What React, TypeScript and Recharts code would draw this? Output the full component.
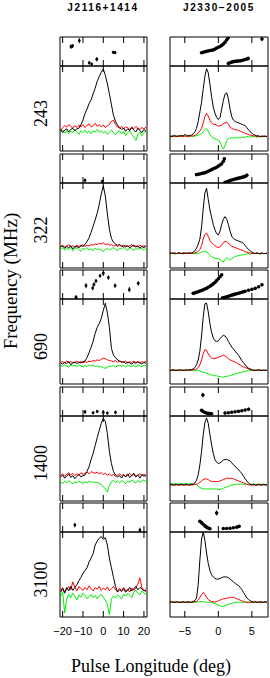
import { ComposedChart, Line, Scatter, XAxis, YAxis, ErrorBar } from "recharts";

const freqs = ["243", "322", "690", "1400", "3100"];

const lonL = [-21, -20, -19, -18, -17, -16, -15, -14, -13, -12, -11, -10, -9, -8, -7, -6, -5, -4, -3, -2, -1, 0, 1, 2, 3, 4, 5, 6, 7, 8, 9, 10, 11, 12, 13, 14, 15, 16, 17, 18, 19, 20, 21];
const lonR = [-7.25, -7, -6.75, -6.5, -6.25, -6, -5.75, -5.5, -5.25, -5, -4.75, -4.5, -4.25, -4, -3.75, -3.5, -3.25, -3, -2.75, -2.5, -2.25, -2, -1.75, -1.5, -1.25, -1, -0.75, -0.5, -0.25, 0, 0.25, 0.5, 0.75, 1, 1.25, 1.5, 1.75, 2, 2.25, 2.5, 2.75, 3, 3.25, 3.5, 3.75, 4, 4.25, 4.5, 4.75, 5, 5.25, 5.5, 5.75, 6, 6.25, 6.5, 6.75, 7, 7.25];

// J2116+1414 : total (I), linear (L), circular (V)
const iL243 = [0.02,-0.03,0.01,0.03,-0.02,0.02,0.04,0.0,0.03,0.04,0.1,0.17,0.28,0.35,0.44,0.5,0.6,0.69,0.8,0.88,0.95,1.0,0.9,0.76,0.6,0.42,0.25,0.15,0.09,0.05,0.02,0.04,-0.01,0.03,0.0,0.05,0.01,-0.02,0.04,0.0,-0.03,0.02,-0.01];
const lL243 = [0.0,0.05,0.08,0.06,0.1,0.07,0.04,0.08,0.05,0.09,0.06,0.1,0.05,0.09,0.11,0.06,0.08,0.12,0.07,0.1,0.06,0.09,0.05,0.08,0.1,0.15,0.17,0.1,0.06,0.04,0.07,0.03,0.06,0.05,0.02,0.06,0.03,0.07,0.04,0.02,0.05,0.03,0.06];
const vL243 = [-0.02,0.01,-0.04,0.0,-0.05,-0.01,-0.03,0.02,-0.02,-0.06,0.0,-0.03,0.01,-0.04,-0.01,-0.05,0.0,-0.02,0.02,-0.03,0.0,-0.04,-0.01,-0.06,-0.02,0.01,-0.03,-0.07,-0.02,0.0,-0.05,-0.01,-0.08,-0.03,0.0,-0.06,-0.1,-0.16,-0.06,-0.02,-0.08,-0.03,-0.01];
const iL322 = [0.01,0.03,-0.01,0.02,0.0,0.03,-0.02,0.01,0.02,0.0,0.03,0.02,0.05,0.1,0.16,0.25,0.35,0.45,0.56,0.7,0.87,1.0,0.84,0.55,0.3,0.15,0.09,0.06,0.04,0.05,0.02,0.04,0.01,0.03,0.0,0.02,0.04,0.01,0.03,-0.01,0.02,0.0,0.03];
const lL322 = [0.02,0.04,0.01,0.03,0.05,0.02,0.03,0.01,0.04,0.02,0.03,0.05,0.02,0.04,0.03,0.05,0.04,0.06,0.05,0.07,0.06,0.08,0.05,0.06,0.04,0.05,0.03,0.04,0.02,0.04,0.03,0.01,0.04,0.02,0.03,0.05,0.02,0.03,0.01,0.04,0.02,0.03,0.02];
const vL322 = [-0.02,0.0,-0.04,-0.01,-0.03,0.01,-0.05,-0.02,0.0,-0.03,-0.06,-0.01,-0.03,0.0,-0.04,-0.02,-0.05,-0.01,-0.03,-0.02,-0.04,-0.06,-0.03,-0.01,-0.04,-0.02,0.0,-0.03,-0.05,-0.01,-0.02,0.01,-0.03,-0.04,0.0,-0.02,-0.05,-0.01,-0.03,0.0,-0.02,-0.04,-0.01];
const iL690 = [0.01,-0.01,0.02,0.0,0.03,-0.02,0.01,0.02,0.0,0.02,0.01,0.03,0.04,0.1,0.18,0.27,0.37,0.5,0.6,0.66,0.75,0.88,1.0,0.84,0.6,0.25,0.14,0.1,0.06,0.04,0.02,0.03,0.0,0.02,0.01,-0.01,0.02,0.0,0.03,0.01,-0.01,0.02,0.0];
const lL690 = [0.02,0.03,0.01,0.04,0.02,0.03,0.01,0.02,0.04,0.02,0.03,0.01,0.03,0.02,0.04,0.03,0.05,0.04,0.06,0.05,0.07,0.09,0.08,0.06,0.05,0.04,0.03,0.05,0.02,0.04,0.03,0.02,0.04,0.01,0.03,0.02,0.04,0.02,0.03,0.01,0.03,0.02,0.04];
const vL690 = [-0.03,-0.05,-0.02,-0.04,-0.06,-0.02,-0.04,-0.03,-0.05,-0.02,-0.04,-0.06,-0.03,-0.05,-0.02,-0.04,-0.03,-0.05,-0.04,-0.06,-0.05,-0.07,-0.08,-0.06,-0.04,-0.05,-0.03,-0.06,-0.04,-0.02,-0.05,-0.03,-0.06,-0.02,-0.04,-0.05,-0.03,-0.06,-0.02,-0.04,-0.05,-0.03,-0.04];
const iL1400 = [0.03,0.06,0.01,0.04,0.08,0.02,0.05,0.0,0.04,0.07,0.03,0.05,0.06,0.12,0.2,0.32,0.42,0.55,0.68,0.8,0.92,1.0,0.95,0.75,0.45,0.25,0.12,0.06,0.03,0.05,0.01,0.06,0.03,0.08,0.02,0.05,0.09,0.03,0.06,0.01,0.07,0.04,0.05];
const lL1400 = [0.05,0.08,0.04,0.07,0.1,0.06,0.09,0.05,0.08,0.06,0.1,0.07,0.09,0.11,0.08,0.12,0.1,0.09,0.11,0.08,0.1,0.07,0.09,0.06,0.08,0.05,0.07,0.04,0.06,0.08,0.05,0.07,0.04,0.06,0.09,0.05,0.07,0.04,0.06,0.08,0.05,0.07,0.06];
const vL1400 = [-0.05,-0.08,-0.04,-0.07,-0.03,-0.06,-0.09,-0.05,-0.07,-0.04,-0.06,-0.08,-0.05,-0.07,-0.04,-0.06,-0.05,-0.07,-0.06,-0.08,-0.1,-0.13,-0.17,-0.22,-0.11,-0.05,-0.03,-0.06,-0.04,-0.07,-0.03,-0.05,-0.08,-0.04,-0.06,-0.02,-0.05,-0.07,-0.03,-0.06,-0.04,-0.02,-0.05];
const iL3100 = [0.02,0.08,0.0,0.1,0.04,0.12,0.05,0.1,0.15,0.22,0.28,0.35,0.4,0.45,0.55,0.62,0.7,0.85,0.92,0.97,1.0,0.95,0.98,0.85,0.62,0.45,0.28,0.12,0.02,0.06,0.03,0.08,0.02,0.05,0.1,0.04,0.08,0.12,0.06,0.1,0.08,0.04,0.06];
const lL3100 = [0.05,0.1,0.02,0.08,0.12,0.06,0.2,0.1,0.04,0.12,0.08,0.05,0.1,0.06,0.13,0.08,0.04,0.1,0.07,0.12,0.05,0.09,0.06,0.11,0.04,0.08,0.12,0.06,0.03,0.09,0.05,0.1,0.04,0.07,0.02,0.09,0.05,0.1,0.16,0.27,0.1,0.06,0.02];
const vL3100 = [-0.05,0.02,-0.35,-0.1,-0.02,-0.08,0.0,-0.05,-0.12,-0.03,-0.07,0.0,-0.04,-0.1,-0.06,-0.02,-0.08,-0.04,-0.1,-0.05,-0.02,-0.07,-0.12,-0.2,-0.38,-0.1,-0.05,-0.08,-0.03,-0.06,-0.1,-0.02,-0.05,0.0,-0.04,-0.08,0.02,0.05,0.0,-0.03,0.04,0.0,-0.02];

// J2330-2005
const iR243 = [0.01,0.0,0.01,0.02,0.0,0.01,0.01,0.02,0.01,0.03,0.02,0.01,0.02,0.02,0.04,0.07,0.12,0.22,0.36,0.5,0.7,0.88,0.99,0.93,0.76,0.58,0.43,0.34,0.28,0.25,0.28,0.4,0.53,0.62,0.64,0.55,0.4,0.29,0.24,0.22,0.21,0.2,0.19,0.18,0.17,0.16,0.13,0.1,0.07,0.05,0.03,0.02,0.01,0.01,0.0,0.01,0.0,0.01,0.0];
const lR243 = [0.0,0.01,0.0,0.0,0.01,0.0,0.01,0.0,0.0,0.01,0.0,0.01,0.0,0.01,0.01,0.02,0.03,0.05,0.08,0.12,0.2,0.29,0.34,0.3,0.24,0.2,0.18,0.18,0.17,0.15,0.16,0.17,0.19,0.2,0.21,0.18,0.14,0.12,0.11,0.1,0.1,0.09,0.08,0.07,0.06,0.05,0.04,0.03,0.02,0.02,0.01,0.01,0.0,0.01,0.0,0.0,0.01,0.0,0.0];
const vR243 = [0.0,0.0,0.01,0.0,0.0,0.01,0.0,0.0,0.0,0.01,0.0,0.0,0.01,0.0,0.0,0.01,0.01,0.02,0.03,0.04,0.07,0.1,0.12,0.08,0.03,0.0,-0.02,-0.03,-0.04,-0.05,-0.08,-0.14,-0.18,-0.13,-0.06,-0.03,-0.02,-0.02,-0.02,-0.02,-0.02,-0.01,-0.02,-0.01,-0.01,-0.01,0.0,0.0,-0.01,0.0,0.0,0.0,-0.01,0.0,0.0,0.0,0.0,0.0,0.0];
const iR322 = [0.0,0.01,0.0,0.01,0.0,0.01,0.01,0.0,0.01,0.01,0.0,0.01,0.01,0.01,0.02,0.04,0.08,0.14,0.22,0.4,0.68,0.92,0.99,0.82,0.66,0.55,0.44,0.36,0.3,0.28,0.34,0.44,0.52,0.56,0.52,0.44,0.34,0.26,0.23,0.21,0.2,0.19,0.18,0.17,0.15,0.12,0.09,0.06,0.04,0.02,0.01,0.0,0.01,0.0,0.0,0.01,0.0,0.0,0.01];
const lR322 = [0.0,0.0,0.01,0.0,0.0,0.0,0.01,0.0,0.0,0.0,0.01,0.0,0.0,0.0,0.01,0.01,0.02,0.03,0.06,0.12,0.22,0.29,0.31,0.26,0.2,0.16,0.14,0.12,0.1,0.09,0.1,0.13,0.17,0.18,0.18,0.16,0.13,0.11,0.1,0.09,0.08,0.07,0.06,0.05,0.04,0.03,0.02,0.01,0.01,0.0,0.0,0.0,0.01,0.0,0.0,0.0,0.0,0.0,0.0];
const vR322 = [0.0,0.0,0.0,-0.01,0.0,0.0,0.0,0.0,-0.01,0.0,0.0,0.0,0.0,0.0,0.0,0.0,0.0,0.0,0.01,0.02,0.03,0.04,0.03,0.0,-0.03,-0.05,-0.06,-0.07,-0.08,-0.08,-0.09,-0.11,-0.13,-0.09,-0.06,-0.08,-0.1,-0.08,-0.06,-0.05,-0.04,-0.03,-0.03,-0.02,-0.02,-0.01,-0.01,0.0,-0.01,0.0,0.0,0.0,0.0,0.0,-0.01,0.0,0.0,0.0,0.0];
const iR690 = [0.0,0.0,0.01,0.0,0.0,0.0,0.01,0.0,0.0,0.0,0.01,0.0,0.01,0.01,0.02,0.04,0.08,0.15,0.28,0.5,0.78,0.97,0.98,0.85,0.68,0.55,0.47,0.43,0.42,0.43,0.46,0.49,0.51,0.5,0.47,0.42,0.38,0.34,0.31,0.28,0.25,0.22,0.18,0.14,0.11,0.08,0.05,0.03,0.02,0.01,0.0,0.0,0.0,0.01,0.0,0.0,0.0,0.0,0.0];
const lR690 = [0.0,0.0,0.0,0.0,0.0,0.0,0.0,0.0,0.0,0.0,0.0,0.0,0.0,0.0,0.01,0.01,0.02,0.04,0.08,0.15,0.24,0.3,0.29,0.24,0.2,0.18,0.17,0.17,0.18,0.19,0.2,0.21,0.22,0.21,0.19,0.17,0.15,0.14,0.13,0.12,0.11,0.09,0.08,0.06,0.05,0.04,0.03,0.02,0.01,0.0,0.0,0.0,0.0,0.0,0.0,0.0,0.0,0.0,0.0];
const vR690 = [0.0,0.0,0.0,0.0,0.0,0.0,0.0,0.0,0.0,0.0,0.0,0.0,0.0,0.0,0.0,0.0,0.0,0.0,-0.01,-0.02,-0.03,-0.03,-0.04,-0.05,-0.06,-0.07,-0.07,-0.08,-0.08,-0.09,-0.09,-0.1,-0.1,-0.09,-0.09,-0.08,-0.08,-0.07,-0.06,-0.05,-0.05,-0.04,-0.03,-0.03,-0.02,-0.02,-0.01,0.0,0.0,0.0,0.0,0.0,0.0,0.0,0.0,0.0,0.0,0.0,0.0];
const iR1400 = [0.0,0.01,0.0,0.0,0.01,0.0,0.0,0.01,0.0,0.0,0.01,0.0,0.0,0.01,0.01,0.03,0.07,0.15,0.3,0.5,0.75,0.93,1.0,0.92,0.75,0.6,0.47,0.38,0.34,0.32,0.33,0.35,0.37,0.38,0.38,0.37,0.36,0.33,0.3,0.28,0.25,0.23,0.2,0.17,0.13,0.09,0.06,0.03,0.01,0.0,0.01,0.0,0.0,0.01,0.0,0.0,0.01,0.0,0.0];
const lR1400 = [0.0,0.0,0.0,0.0,0.0,0.0,0.0,0.0,0.0,0.0,0.0,0.0,0.0,0.0,0.0,0.01,0.01,0.02,0.04,0.06,0.08,0.09,0.09,0.08,0.06,0.05,0.05,0.05,0.05,0.05,0.06,0.07,0.08,0.09,0.1,0.1,0.1,0.1,0.09,0.08,0.07,0.06,0.05,0.04,0.03,0.02,0.01,0.0,0.0,0.0,0.0,0.0,0.0,0.0,0.0,0.0,0.0,0.0,0.0];
const vR1400 = [0.02,0.02,0.01,0.02,0.02,0.01,0.02,0.02,0.01,0.02,0.02,0.01,0.02,0.02,0.01,0.01,0.0,-0.02,-0.04,-0.05,-0.06,-0.06,-0.06,-0.06,-0.06,-0.06,-0.06,-0.06,-0.06,-0.07,-0.07,-0.06,-0.05,-0.04,-0.03,-0.02,-0.01,0.0,0.0,0.01,0.01,0.01,0.01,0.01,0.01,0.01,0.01,0.01,0.01,0.01,0.01,0.01,0.01,0.01,0.01,0.01,0.01,0.01,0.01];
const iR3100 = [0.0,0.01,0.0,0.0,0.01,0.0,0.0,0.0,0.01,0.0,0.0,0.01,0.0,0.0,0.01,0.02,0.06,0.25,0.6,0.9,1.0,0.88,0.7,0.55,0.45,0.39,0.36,0.34,0.33,0.33,0.34,0.35,0.36,0.36,0.36,0.35,0.33,0.31,0.29,0.27,0.25,0.24,0.21,0.18,0.14,0.1,0.06,0.04,0.02,0.01,0.0,0.01,0.0,0.0,0.01,0.0,0.0,0.01,0.0];
const lR3100 = [0.0,0.0,0.0,0.0,0.0,0.0,0.0,0.0,0.0,0.0,0.0,0.0,0.0,0.0,0.0,0.01,0.01,0.03,0.07,0.11,0.14,0.11,0.07,0.04,0.02,0.01,0.01,0.0,0.01,0.02,0.03,0.04,0.05,0.05,0.06,0.06,0.07,0.07,0.07,0.06,0.05,0.04,0.03,0.02,0.01,0.0,0.0,0.0,0.0,0.0,0.0,0.0,0.0,0.0,0.0,0.0,0.0,0.0,0.0];
const vR3100 = [0.0,0.0,0.0,0.0,0.0,0.0,0.0,0.0,0.0,0.0,0.0,0.0,0.0,0.0,0.0,0.0,0.0,0.0,0.01,0.01,0.01,0.0,0.0,0.0,0.0,0.0,-0.01,-0.02,-0.03,-0.04,-0.05,-0.06,-0.06,-0.05,-0.04,-0.03,-0.02,-0.02,-0.01,0.0,0.0,0.0,0.0,0.0,0.0,0.0,0.0,0.0,0.0,0.0,0.0,0.0,0.0,0.0,0.0,0.0,0.0,0.0,0.0];

// position angles: [longitude, PA (deg), error]
const paL243 = [[-15.9, 30, 14], [-15.1, 34, 12], [-11.8, 67, 16], [-6.9, -70, 12], [-5.7, -78, 10], [-3.2, -48, 14], [4.9, -5, 10], [5.8, -7, 10]];
const paL322 = [[-9, -74, 12], [-0.5, -80, 12]];
const paL690 = [[-13.4, -79, 14], [-8.5, -7, 16], [-5.2, -22, 14], [-4.6, 0, 14], [-3.6, 22, 12], [-1.6, 54, 12], [0, 70, 10], [2.5, 43, 14], [5.8, -7, 14], [12.8, -32, 16], [17.2, 7, 14]];
const paL1400 = [[-9, -65, 12], [-5, -70, 10], [-3, -62, 10], [0, -68, 10], [2, -72, 10], [6, -68, 12]];
const paL3100 = [[-14, -47, 14], [18, -78, 14]];

const paR243 = [[-2.5, -8, 6], [-2.25, -5, 6], [-2, -2, 5], [-1.75, 1, 5], [-1.5, 3, 5], [-1.25, 6, 5], [-1, 8, 5], [-0.75, 10, 5], [-0.5, 15, 5], [-0.25, 21, 5], [0, 26, 5], [0.25, 31, 5], [0.5, 38, 5], [0.75, 47, 5], [1, 58, 6], [1.25, 71, 6], [1.45, 84, 7],
  [1.5, -74, 7], [1.75, -70, 6], [2, -66, 6], [2.25, -63, 6], [2.5, -61, 6], [2.75, -60, 6], [3, -59, 6], [3.25, -58, 6], [3.5, -56, 6], [3.75, -53, 7], [4, -50, 7], [4.25, -47, 8], [4.45, -43, 12], [6.5, 78, 14]];
const paR322 = [[-3.25, -38, 7], [-3, -36, 6], [-2.75, -34, 6], [-2.5, -31, 6], [-2.25, -29, 5], [-2, -26, 5], [-1.75, -22, 5], [-1.5, -17, 5], [-1.25, -12, 5], [-1, -7, 5], [-0.75, -2, 5], [-0.5, 3, 5], [-0.25, 8, 5], [0, 15, 5], [0.25, 22, 5], [0.5, 29, 6], [0.75, 45, 6], [0.9, 60, 7],
  [1, -86, 7], [1.25, -84, 6], [1.5, -79, 6], [1.75, -75, 6], [2, -71, 6], [2.25, -68, 6], [2.5, -65, 6], [2.75, -63, 6], [3, -60, 6], [3.25, -58, 6], [3.5, -55, 7], [3.75, -52, 7], [4, -49, 8], [4.25, -42, 12]];
const paR690 = [[-3.75, -55, 7], [-3.5, -52, 6], [-3.25, -48, 6], [-3, -45, 5], [-2.75, -41, 5], [-2.5, -37, 5], [-2.25, -33, 5], [-2, -28, 5], [-1.75, -23, 5], [-1.5, -17, 5], [-1.25, -11, 5], [-1, -4, 5], [-0.75, 4, 5], [-0.5, 13, 5], [-0.25, 24, 5], [0, 36, 5], [0.25, 48, 6], [0.5, 60, 6],
  [0.6, -84, 6], [0.75, -83, 5], [1, -80, 5], [1.25, -77, 5], [1.5, -73, 5], [1.75, -70, 5], [2, -66, 5], [2.25, -63, 5], [2.5, -60, 5], [2.75, -57, 5], [3, -54, 6], [3.25, -51, 6], [3.5, -48, 6], [3.75, -45, 6], [4, -42, 6], [4.5, -36, 7], [5, -30, 7], [5.5, -24, 8], [6, -14, 9], [6.5, -2, 10]];
const paR1400 = [[-2.3, 40, 14], [-2.5, -55, 8], [-2.25, -62, 7], [-2, -68, 6], [-1.75, -72, 6], [-1.5, -74, 6], [-1.25, -75, 7], [-1, -76, 8], [1, -72, 8], [1.5, -70, 7], [2, -67, 6], [2.5, -64, 6], [3, -61, 6], [3.5, -57, 7], [4, -53, 8], [4.5, -48, 10]];
const paR3100 = [[-0.25, 28, 16], [-2.75, -24, 8], [-2.5, -32, 7], [-2.25, -42, 7], [-2, -52, 7], [-1.75, -60, 7], [-1.5, -66, 7], [-1.25, -70, 8], [0.75, -68, 8], [1.25, -68, 7], [1.75, -67, 7], [2.25, -64, 7], [2.75, -60, 8], [3.1, -55, 9]];

const profL = [[iL243, lL243, vL243], [iL322, lL322, vL322], [iL690, lL690, vL690], [iL1400, lL1400, vL1400], [iL3100, lL3100, vL3100]];
const profR = [[iR243, lR243, vR243], [iR322, lR322, vR322], [iR690, lR690, vR690], [iR1400, lR1400, vR1400], [iR3100, lR3100, vR3100]];
const paL = [paL243, paL322, paL690, paL1400, paL3100];
const paR = [paR243, paR322, paR690, paR1400, paR3100];
const yDomL = [[-0.33, 1.05], [-0.33, 1.05], [-0.34, 1.07], [-0.37, 1.04], [-0.42, 1.08]];
const yDomR = [[-0.21, 1.03], [-0.22, 1.07], [-0.2, 1.04], [-0.24, 1.03], [-0.21, 1.0]];

const cols = [
  { x: 60, w: 87, domain: [-21.3, 21.5], ticks: [-20, -10, 0, 10, 20], lon: lonL, prof: profL, pa: paL, yDom: yDomL, r: 1.4 },
  { x: 170, w: 98, domain: [-7.2, 7.4], ticks: [-5, 0, 5], lon: lonR, prof: profR, pa: paR, yDom: yDomR, r: 1.8 },
];

const TOP0 = 37;
const STRIDE = 116.5;
const PA_H = 29;
const PR_H = 85;
const sans = "'Liberation Sans', Arial, sans-serif";
const serif = "'Liberation Serif', 'Times New Roman', serif";

const fmt = (v: number) => (v < 0 ? "\u2212" + Math.abs(v) : String(v));

function Frame({ x, y, w, h, col, yDomain, yKey, labels, data, children }: any) {
  const bottomH = labels ? 24 : 1;
  const pad = labels ? 14 : 0;
  const tickLabel = (p: any) =>
    labels ? (
      <text x={p.x} y={p.y + 8.5} textAnchor="middle" fontSize={11} fontFamily={sans} fill="#000">
        {fmt(p.payload.value)}
      </text>
    ) : (
      <g />
    );
  return (
    <div style={{ position: "absolute", left: x - 1 - pad, top: y - 1 }}>
      <ComposedChart width={w + 2 + 2 * pad} height={h + 1 + bottomH} data={data} margin={{ top: 0, right: pad, bottom: 0, left: pad }}>
        <XAxis xAxisId="b" type="number" dataKey="lon" domain={col.domain} ticks={col.ticks} allowDataOverflow interval={0}
          orientation="bottom" height={bottomH} tickSize={-6} tickMargin={labels ? 15 : 0} tick={tickLabel} stroke="#000" />
        <XAxis xAxisId="t" type="number" dataKey="lon" domain={col.domain} ticks={col.ticks} allowDataOverflow interval={0}
          orientation="top" height={1} tickSize={-6} tick={() => <g />} stroke="#000" />
        <YAxis yAxisId="l" type="number" dataKey={yKey} domain={yDomain} allowDataOverflow width={1} tick={false} tickLine={false} stroke="#000" />
        <YAxis yAxisId="r" type="number" dataKey={yKey} orientation="right" domain={yDomain} allowDataOverflow width={1} tick={false} tickLine={false} stroke="#000" />
        {children}
      </ComposedChart>
    </div>
  );
}

export default function App() {
  const panels: any[] = [];
  cols.forEach((col, c) => {
    const dot = (p: any) => <circle cx={p.cx} cy={p.cy} r={col.r} fill="#000" />;
    freqs.forEach((f, k) => {
      const top = Math.round(TOP0 + k * STRIDE);
      const pts = col.pa[k].map(([lon, pa, err]) => ({ lon, pa, err }));
      panels.push(
        <Frame key={`pa-${c}-${k}`} x={col.x} y={top} w={col.w} h={PA_H} col={col} yDomain={[-90, 90]} yKey="pa">
          <Scatter xAxisId="b" yAxisId="l" data={pts} dataKey="pa" shape={dot} isAnimationActive={false}>
            <ErrorBar dataKey="err" direction="y" width={0} stroke="#000" strokeWidth={1} />
          </Scatter>
        </Frame>
      );
      const [iv, lv, vv] = col.prof[k];
      const rows = col.lon.map((lon, j) => ({ lon, I: iv[j], L: lv[j], V: vv[j] }));
      panels.push(
        <Frame key={`pr-${c}-${k}`} x={col.x} y={top + PA_H} w={col.w} h={PR_H} col={col} yDomain={col.yDom[k]} labels={k === 4} data={rows}>
          <Line xAxisId="b" yAxisId="l" type="linear" dataKey="V" stroke="#00ee00" strokeWidth={1} dot={false} isAnimationActive={false} />
          <Line xAxisId="b" yAxisId="l" type="linear" dataKey="L" stroke="#ff0000" strokeWidth={1} dot={false} isAnimationActive={false} />
          <Line xAxisId="b" yAxisId="l" type="linear" dataKey="I" stroke="#000000" strokeWidth={1} dot={false} isAnimationActive={false} />
        </Frame>
      );
    });
  });

  return (
    <div style={{ position: "absolute", left: 0, top: 0, width: 270, height: 678, background: "#fff" }}>
      {panels}
      <svg width={270} height={678} style={{ position: "absolute", left: 0, top: 0, pointerEvents: "none" }}>
        <text x={103} y={11} textAnchor="middle" fontSize={10} fontWeight="bold" letterSpacing={1.6} fontFamily={sans} fill="#000">J2116+1414</text>
        <text x={219} y={11} textAnchor="middle" fontSize={10} fontWeight="bold" letterSpacing={1.6} fontFamily={sans} fill="#000">J2330{"\u2212"}2005</text>
        {freqs.map((f, k) => (
          <text key={f} transform={`translate(46.5, ${TOP0 + k * STRIDE + PA_H + PR_H / 2 + 5}) rotate(-90)`} textAnchor="middle" fontSize={18} fontFamily={serif} fill="#000">
            {f}
          </text>
        ))}
        <text transform="translate(17, 281) rotate(-90)" textAnchor="middle" fontSize={19} fontFamily={serif} fill="#000">Frequency (MHz)</text>
        <text x={151} y={672} textAnchor="middle" fontSize={18} fontFamily={serif} fill="#000">Pulse Longitude (deg)</text>
      </svg>
    </div>
  );
}
